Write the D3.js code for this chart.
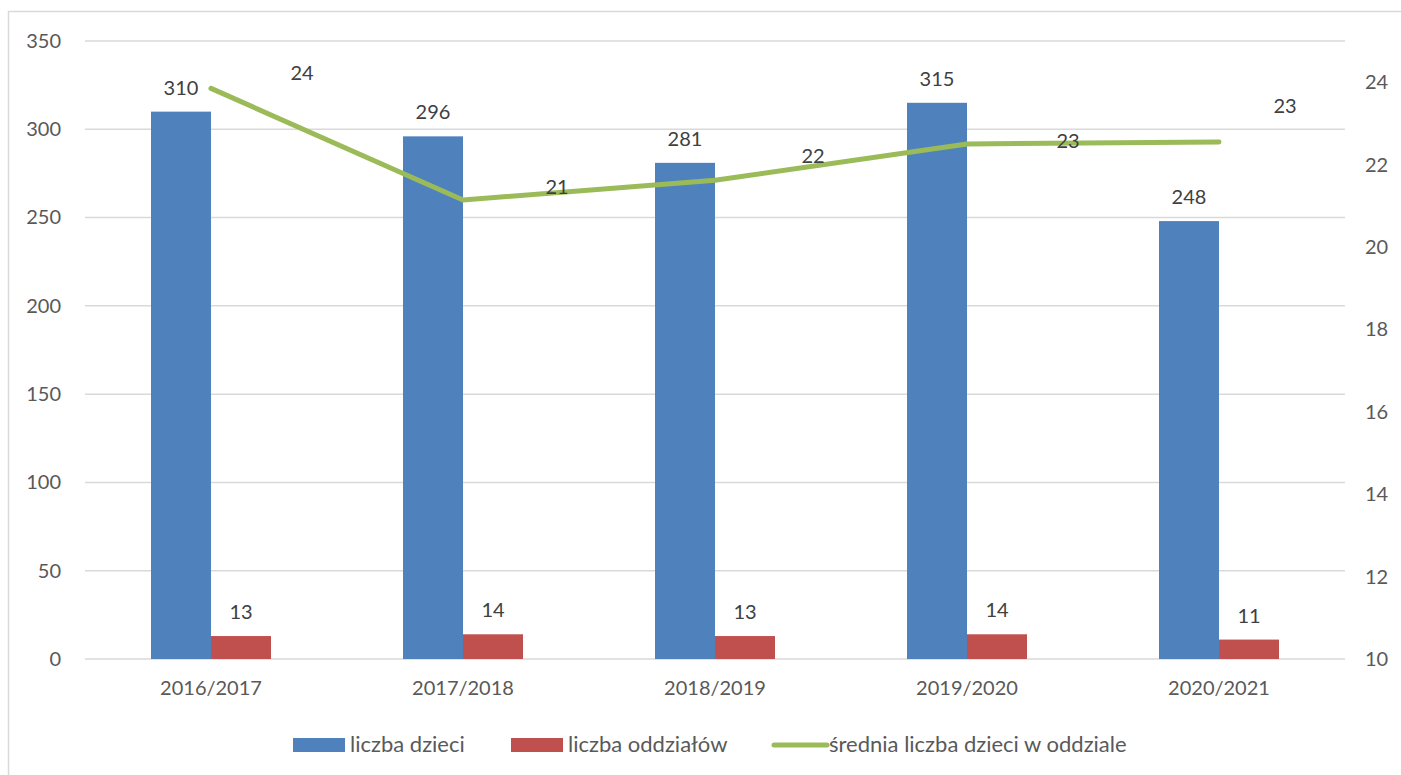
<!DOCTYPE html>
<html>
<head>
<meta charset="utf-8">
<script src="https://cdn.jsdelivr.net/npm/d3@7"></script>
<style>
  body { margin: 0; background: #fff; }
  text { font-family: Lato, "Open Sans", sans-serif; }
</style>
</head>
<body>
<div id="chart"></div>
<script>
// data
var years = ["2016/2017", "2017/2018", "2018/2019", "2019/2020", "2020/2021"];
var liczbaDzieci = [310, 296, 281, 315, 248];
var liczbaOddzialow = [13, 14, 13, 14, 11];
var sredniaDzieci = [23.85, 21.14, 21.62, 22.5, 22.55];
var leftTicks = [0, 50, 100, 150, 200, 250, 300, 350];
var rightTicks = [10, 12, 14, 16, 18, 20, 22, 24];
var seriesNames = ["liczba dzieci", "liczba oddziałów", "średnia liczba dzieci w oddziale"];

// the line labels were dragged around by hand in the original
var lineLabelShift = [[91, -15], [94, -13], [98, -24], [101, -3], [66, -36]];

var width = 1401, height = 775;
var plot = {left: 85, right: 1345, top: 41, bottom: 659};
var blue = "#4f81bd", red = "#c0504d", green = "#9bbb59";

var svg = d3.select("#chart").append("svg")
    .attr("width", width)
    .attr("height", height);

// chart frame (only left and top edges are inside the picture)
svg.append("rect")
    .attr("x", 8.5).attr("y", 11.5)
    .attr("width", 1420).attr("height", 800)
    .attr("fill", "none")
    .attr("stroke", "#d9d9d9")
    .attr("stroke-width", 1.5);

var x0 = d3.scaleBand()
    .domain(years)
    .range([plot.left, plot.right]);

var x1 = d3.scaleBand()
    .domain(["dzieci", "oddzialy"])
    .range([0, x0.bandwidth()])
    .paddingInner(0)
    .paddingOuter(1.1);

var y = d3.scaleLinear()
    .domain([0, 350])
    .range([plot.bottom, plot.top]);

var y2 = d3.scaleLinear()
    .domain([10, 25])
    .range([plot.bottom, plot.top]);

// gridlines
svg.append("g")
    .selectAll("line")
    .data(leftTicks)
    .enter().append("line")
    .attr("x1", plot.left).attr("x2", plot.right)
    .attr("y1", function(d) { return y(d); })
    .attr("y2", function(d) { return y(d); })
    .attr("stroke", "#d9d9d9")
    .attr("stroke-width", 1.5);

// left axis
var leftAxis = svg.append("g")
    .attr("transform", "translate(" + plot.left + ",0)")
    .call(d3.axisLeft(y).tickValues(leftTicks).tickSize(0).tickPadding(24));
leftAxis.select(".domain").remove();
leftAxis.selectAll("text")
    .style("font-size", "20px")
    .attr("fill", "#595959")
    .attr("font-family", "Lato, sans-serif");

// right axis
var rightAxis = svg.append("g")
    .attr("transform", "translate(1355,0)")
    .call(d3.axisRight(y2).tickValues(rightTicks).tickSize(0).tickPadding(10));
rightAxis.select(".domain").remove();
rightAxis.selectAll("text")
    .style("font-size", "20px")
    .attr("fill", "#595959")
    .attr("font-family", "Lato, sans-serif");

// category axis
var bottomAxis = svg.append("g")
    .attr("transform", "translate(0," + plot.bottom + ")")
    .call(d3.axisBottom(x0).tickSize(0).tickPadding(22));
bottomAxis.select(".domain").remove();
bottomAxis.selectAll("text")
    .style("font-size", "20px")
    .attr("fill", "#595959")
    .attr("font-family", "Lato, sans-serif");

// bars
var groups = svg.selectAll(".year")
    .data(years)
    .enter().append("g")
    .attr("transform", function(d) { return "translate(" + x0(d) + ",0)"; });

groups.append("rect")
    .attr("x", x1("dzieci"))
    .attr("width", x1.bandwidth())
    .attr("y", function(d, i) { return y(liczbaDzieci[i]); })
    .attr("height", function(d, i) { return y(0) - y(liczbaDzieci[i]); })
    .attr("fill", blue);

groups.append("rect")
    .attr("x", x1("oddzialy"))
    .attr("width", x1.bandwidth())
    .attr("y", function(d, i) { return y(liczbaOddzialow[i]); })
    .attr("height", function(d, i) { return y(0) - y(liczbaOddzialow[i]); })
    .attr("fill", red);

// bar labels
groups.append("text")
    .attr("x", x1("dzieci") + x1.bandwidth() / 2)
    .attr("y", function(d, i) { return y(liczbaDzieci[i]) - 17; })
    .attr("text-anchor", "middle")
    .style("font-size", "20px")
    .attr("fill", "#404040")
    .text(function(d, i) { return liczbaDzieci[i]; });

groups.append("text")
    .attr("x", x1("oddzialy") + x1.bandwidth() / 2)
    .attr("y", function(d, i) { return y(liczbaOddzialow[i]) - 17; })
    .attr("text-anchor", "middle")
    .style("font-size", "20px")
    .attr("fill", "#404040")
    .text(function(d, i) { return liczbaOddzialow[i]; });

// line on the secondary axis
var lineX = function(d, i) { return x0(years[i]) + x0.bandwidth() / 2; };
var line = d3.line()
    .x(lineX)
    .y(function(d) { return y2(d); });

svg.append("path")
    .datum(sredniaDzieci)
    .attr("d", line)
    .attr("fill", "none")
    .attr("stroke", green)
    .attr("stroke-width", 5)
    .attr("stroke-linecap", "round")
    .attr("stroke-linejoin", "round");

svg.append("g")
    .selectAll("text")
    .data(sredniaDzieci)
    .enter().append("text")
    .attr("x", function(d, i) { return lineX(d, i) + lineLabelShift[i][0]; })
    .attr("y", function(d, i) { return y2(d) + lineLabelShift[i][1] + 7; })
    .attr("text-anchor", "middle")
    .style("font-size", "20px")
    .attr("fill", "#404040")
    .text(function(d) { return Math.round(d); });

// legend
var legendY = 745;
var legendItems = [
    {x: 293, type: "rect", color: blue},
    {x: 511, type: "rect", color: red},
    {x: 772, type: "line", color: green}
];
var legend = svg.append("g");
legendItems.forEach(function(item, i) {
    if (item.type == "rect") {
        legend.append("rect")
            .attr("x", item.x).attr("y", legendY - 7)
            .attr("width", 52).attr("height", 14)
            .attr("fill", item.color);
    } else {
        legend.append("line")
            .attr("x1", item.x + 2).attr("x2", item.x + 55)
            .attr("y1", legendY).attr("y2", legendY)
            .attr("stroke", item.color)
            .attr("stroke-width", 5)
            .attr("stroke-linecap", "round");
    }
    legend.append("text")
        .attr("x", item.x + 57)
        .attr("y", legendY + 7)
        .style("font-size", "22px")
        .attr("fill", "#595959")
        .text(seriesNames[i]);
});
</script>
</body>
</html>
